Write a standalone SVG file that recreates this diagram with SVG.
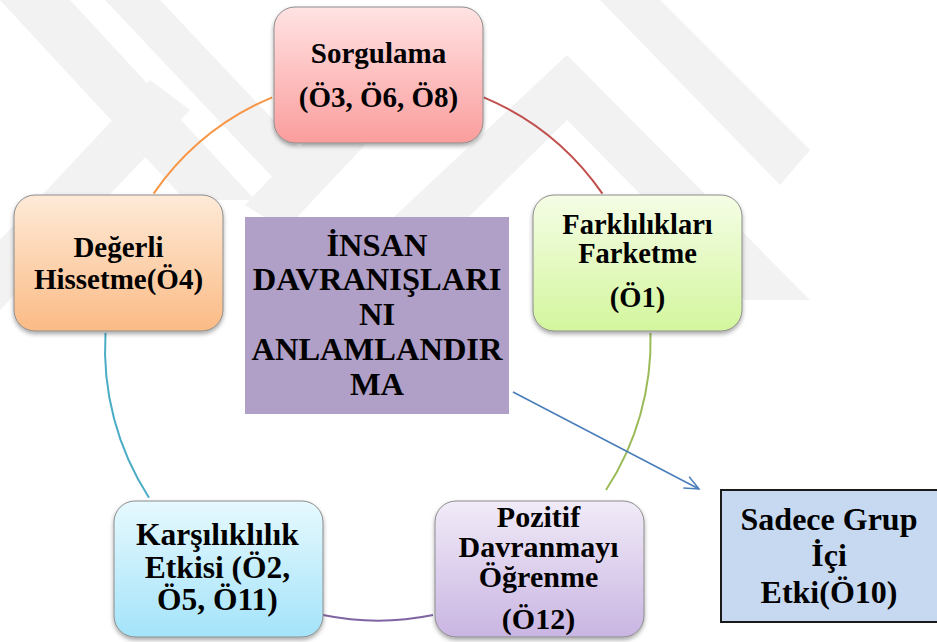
<svg xmlns="http://www.w3.org/2000/svg" width="937" height="642" viewBox="0 0 937 642">
  <defs>
    <style>
      .lbl { font-weight: bold; fill: #000; text-anchor: middle; }
      .box { stroke: #8c8c8c; stroke-width: 1; filter: url(#shadow); }
      .arc { fill: none; stroke-width: 2; }
      .wm { fill: #f2f2f2; }
    </style>
    <filter id="shadow" x="-10%" y="-10%" width="120%" height="125%">
      <feDropShadow dx="0" dy="2.5" stdDeviation="2" flood-color="#000" flood-opacity="0.35"/>
    </filter>
    <linearGradient id="gPink" x1="0" y1="0" x2="0" y2="1">
      <stop offset="0" stop-color="#ffe3e3"/>
      <stop offset="1" stop-color="#fb9d9d"/>
    </linearGradient>
    <linearGradient id="gGreen" x1="0" y1="0" x2="0" y2="1">
      <stop offset="0" stop-color="#f5fde6"/>
      <stop offset="1" stop-color="#d3f69d"/>
    </linearGradient>
    <linearGradient id="gOrange" x1="0" y1="0" x2="0" y2="1">
      <stop offset="0" stop-color="#feead8"/>
      <stop offset="1" stop-color="#fbbb85"/>
    </linearGradient>
    <linearGradient id="gBlue" x1="0" y1="0" x2="0" y2="1">
      <stop offset="0" stop-color="#e6f9fe"/>
      <stop offset="1" stop-color="#a4e3fa"/>
    </linearGradient>
    <linearGradient id="gLilac" x1="0" y1="0" x2="0" y2="1">
      <stop offset="0" stop-color="#f1ebf8"/>
      <stop offset="1" stop-color="#c9b5e2"/>
    </linearGradient>
    <marker id="openArrow" viewBox="0 0 20 20" refX="18" refY="10" markerWidth="18" markerHeight="18" markerUnits="userSpaceOnUse" orient="auto">
      <path d="M2,3 L18,10 L2,17" fill="none" stroke="#4a7ebb" stroke-width="1.6"/>
    </marker>
  </defs>

  <rect width="937" height="642" fill="#ffffff"/>

  <!-- faint background emblem -->
  <g id="watermark">
    <polygon class="wm" points="0,0 70,0 255,200 185,200 0,0"/>
    <polygon class="wm" points="105,0 160,0 330,180 275,180"/>
    <polygon class="wm" points="0,240 150,80 190,110 0,310"/>
    <polygon class="wm" points="245,205 330,115 365,145 285,230"/>
    <polygon class="wm" points="567,55 810,300 745,300 567,120 420,265 380,230"/>
    <polygon class="wm" points="600,0 660,0 810,150 780,185"/>
  </g>

  <!-- cycle ring segments and the outgoing arrow -->
  <g id="connectors">
    <path class="arc" stroke="#f79646" d="M272.2,97.3 A273,273 0 0 0 153.6,193.6"/>
    <path class="arc" stroke="#c0504d" d="M483.8,97.3 A273,273 0 0 1 602.4,193.6"/>
    <path class="arc" stroke="#9bbb59" d="M650.5,333 A273,273 0 0 1 606,490"/>
    <path class="arc" stroke="#8064a2" d="M323,615 A273,273 0 0 0 433,615"/>
    <path class="arc" stroke="#4bacc6" d="M105.5,333 A273,273 0 0 0 149,497.7"/>
    <line x1="513" y1="392" x2="699" y2="489" stroke="#4a7ebb" stroke-width="1.6" marker-end="url(#openArrow)"/>
  </g>

  <g id="nodes" font-family="'Liberation Serif', 'Times New Roman', 'DejaVu Serif', serif">
    <g id="node-sorgulama">
      <rect class="box" x="274" y="7" width="209" height="136" rx="21" fill="url(#gPink)"/>
      <text class="lbl" font-size="29" x="378.5" y="63">Sorgulama</text>
      <text class="lbl" font-size="29" x="378.5" y="107">(Ö3, Ö6, Ö8)</text>
    </g>

    <g id="node-farkliliklari">
      <rect class="box" x="533" y="195" width="209" height="136" rx="21" fill="url(#gGreen)"/>
      <text class="lbl" font-size="28.5" x="637.5" y="234">Farklılıkları</text>
      <text class="lbl" font-size="28.5" x="637.5" y="263">Farketme</text>
      <text class="lbl" font-size="28.5" x="637.5" y="307">(Ö1)</text>
    </g>

    <g id="node-degerli">
      <rect class="box" x="14" y="195" width="209" height="136" rx="21" fill="url(#gOrange)"/>
      <text class="lbl" font-size="29" x="118.5" y="257">Değerli</text>
      <text class="lbl" font-size="29" x="118.5" y="289">Hissetme(Ö4)</text>
    </g>

    <g id="node-karsiliklilik">
      <rect class="box" x="114" y="501" width="209" height="136" rx="21" fill="url(#gBlue)"/>
      <text class="lbl" font-size="31.5" x="217.5" y="545">Karşılıklılık</text>
      <text class="lbl" font-size="31.5" x="217.5" y="578">Etkisi (Ö2,</text>
      <text class="lbl" font-size="31.5" x="217.5" y="610">Ö5, Ö11)</text>
    </g>

    <g id="node-pozitif">
      <rect class="box" x="435" y="501" width="209" height="136" rx="21" fill="url(#gLilac)"/>
      <text class="lbl" font-size="30" x="538.5" y="527">Pozitif</text>
      <text class="lbl" font-size="30" x="538.5" y="557">Davranmayı</text>
      <text class="lbl" font-size="30" x="538.5" y="587">Öğrenme</text>
      <text class="lbl" font-size="30" x="538.5" y="629">(Ö12)</text>
    </g>

    <g id="node-merkez">
      <rect x="245" y="217" width="264" height="197" fill="#b09fc7"/>
      <text class="lbl" font-size="32.5" x="377" y="256">İNSAN</text>
      <text class="lbl" font-size="32.5" x="377" y="290">DAVRANIŞLARI</text>
      <text class="lbl" font-size="32.5" x="377" y="325">NI</text>
      <text class="lbl" font-size="32.5" x="377" y="360">ANLAMLANDIR</text>
      <text class="lbl" font-size="32.5" x="377" y="395">MA</text>
    </g>

    <g id="node-sadece">
      <rect x="721" y="490" width="220" height="132" fill="#c6d9f1" stroke="#1a1a1a" stroke-width="2"/>
      <text class="lbl" font-size="32" x="829" y="530">Sadece Grup</text>
      <text class="lbl" font-size="32" x="829" y="566">İçi</text>
      <text class="lbl" font-size="32" x="829" y="603">Etki(Ö10)</text>
    </g>
  </g>
</svg>
